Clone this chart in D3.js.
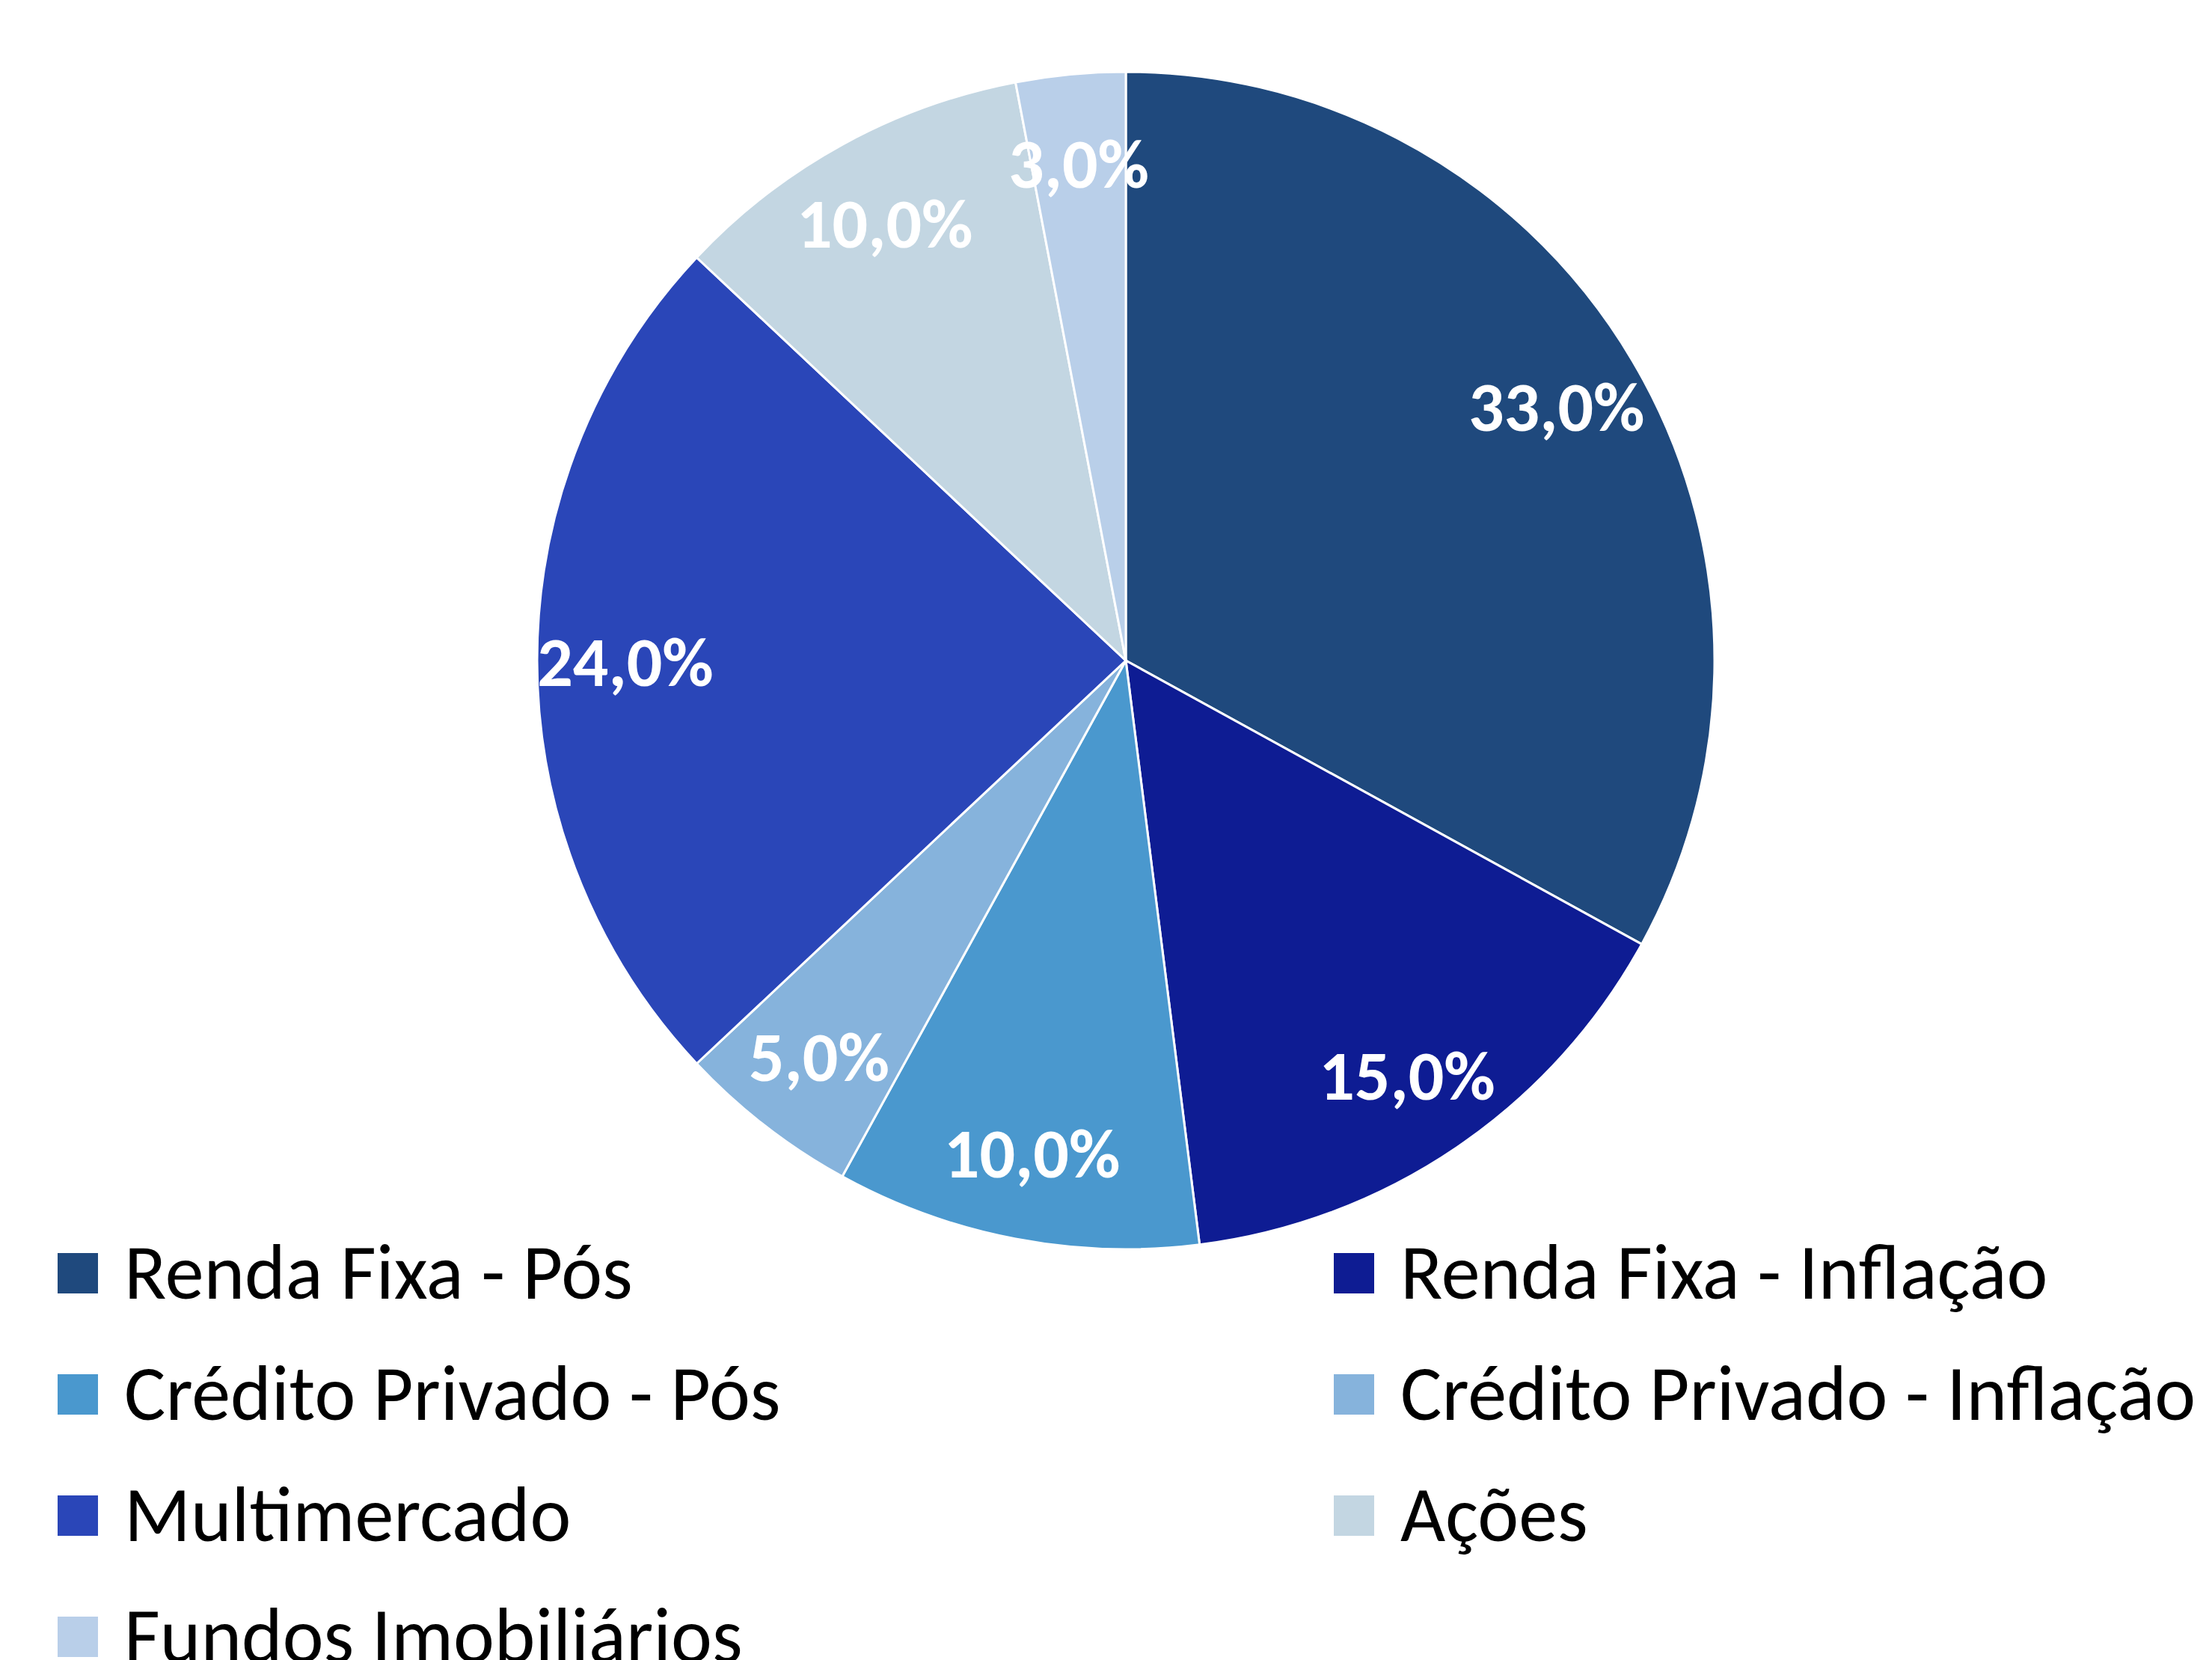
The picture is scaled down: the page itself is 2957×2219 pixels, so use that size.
<!DOCTYPE html>
<html>
<head>
<meta charset="utf-8">
<script src="https://cdn.jsdelivr.net/npm/d3@7"></script>
<style>
  body { margin: 0; background: #fff; }
  svg { display: block; }
</style>
</head>
<body>
<div id="container"></div>
<script>
/* CONSTANTS AND GLOBALS */
const width = 2957,
  height = 2219;

// data
const categories = [
  "Renda Fixa - Pós",
  "Renda Fixa - Inflação",
  "Crédito Privado - Pós",
  "Crédito Privado - Inflação",
  "Multimercado",
  "Ações",
  "Fundos Imobiliários"
];
const values = [33, 15, 10, 5, 24, 10, 3];
const colors = ["#1F497D", "#0E1C93", "#4A98CE", "#86B3DC", "#2A46B8", "#C3D6E2", "#B9CFE9"];

const data = categories.map((c, i) => ({ name: c, value: values[i] }));

const cx = 1505, cy = 883, radius = 787;
const fontFamily = "Carlito, Calibri, Lato, sans-serif";

const svg = d3.select("#container")
  .append("svg")
  .attr("width", width)
  .attr("height", height);

const color = d3.scaleOrdinal().domain(categories).range(colors);

// PIE
const pie = d3.pie().value(d => d.value).sort(null);
const arcs = pie(data);

const arcGen = d3.arc().innerRadius(0).outerRadius(radius);
const labelArc = d3.arc().innerRadius(radius * 0.85).outerRadius(radius * 0.85);

const g = svg.append("g").attr("transform", `translate(${cx}, ${cy})`);

g.selectAll("path.slice")
  .data(arcs)
  .join("path")
  .attr("class", "slice")
  .attr("d", arcGen)
  .attr("fill", d => color(d.data.name))
  .attr("stroke", "#fff")
  .attr("stroke-width", 3);

const fmt = v => d3.format(".1f")(v).replace(".", ",") + "%";

g.selectAll("text.label")
  .data(arcs)
  .join("text")
  .attr("class", "label")
  .attr("transform", d => `translate(${labelArc.centroid(d)})`)
  .attr("text-anchor", "middle")
  .attr("dy", "0.36em")
  .attr("font-family", fontFamily)
  .attr("font-weight", "bold")
  .attr("font-size", 94)
  .attr("fill", "#fff")
  .text(d => fmt(d.data.value));

// LEGEND
const legendX = d3.scaleOrdinal().domain([0, 1]).range([77, 1783]);
const legendY = d3.scaleLinear().domain([0, 1]).range([1675, 1837]);

const legend = svg.selectAll("g.legend")
  .data(data)
  .join("g")
  .attr("class", "legend")
  .attr("transform", (d, i) => `translate(${legendX(i % 2)}, ${legendY(Math.floor(i / 2))})`);

legend.append("rect")
  .attr("width", 54)
  .attr("height", 54)
  .attr("fill", d => color(d.name));

legend.append("text")
  .attr("x", 89)
  .attr("y", 61)
  .attr("font-family", fontFamily)
  .attr("font-size", 104)
  .attr("fill", "#000")
  .text(d => d.name);
</script>
</body>
</html>
